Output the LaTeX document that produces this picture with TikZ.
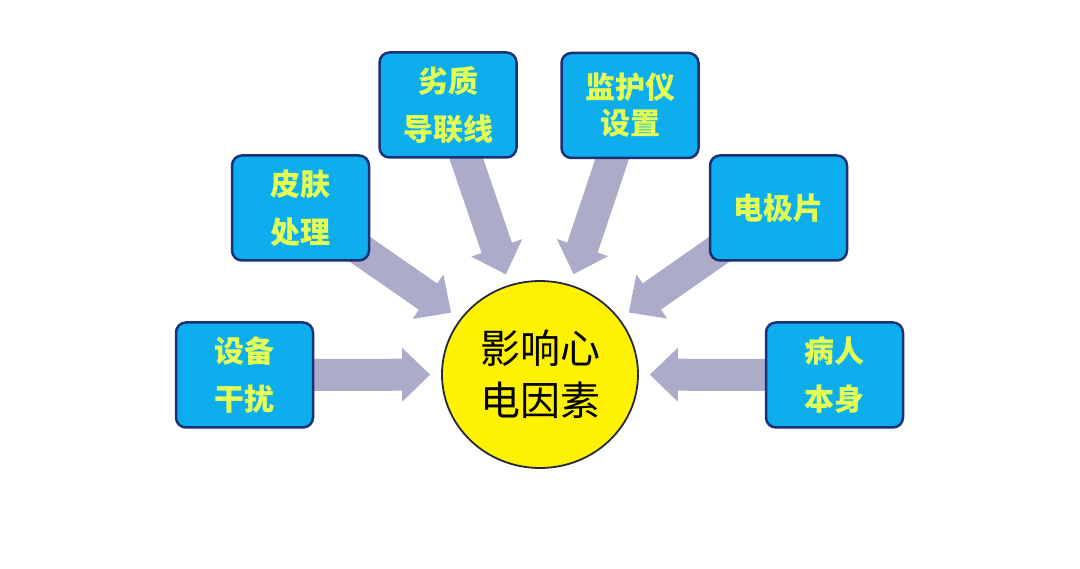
\documentclass[tikz,border=0pt]{standalone}
\usepackage{fontspec}
\newfontfamily\cjk{Noto Sans CJK SC}
\usetikzlibrary{calc,backgrounds,shapes.geometric}
\definecolor{boxfill}{RGB}{14,174,238}
\definecolor{boxline}{RGB}{28,48,118}
\definecolor{boxtext}{RGB}{228,255,84}
\definecolor{arrowfill}{RGB}{172,172,202}
\definecolor{circline}{RGB}{40,40,60}
\newcommand{\fatarrow}[2]{%
  \path (#1.center) -- (#2) coordinate[pos=1] (fa-b);
  \coordinate (fa-s) at (#1.center);
  \coordinate (fa-t) at ($(fa-b)!11pt!(fa-s)$);
  \coordinate (fa-h) at ($(fa-t)!28pt!(fa-s)$);
  \fill[arrowfill] ($(fa-s)!16pt!90:(fa-t)$) -- ($(fa-h)!16pt!90:(fa-t)$)
    -- ($(fa-h)!27pt!90:(fa-t)$) -- (fa-t) -- ($(fa-h)!27pt!-90:(fa-t)$)
    -- ($(fa-h)!16pt!-90:(fa-t)$) -- ($(fa-s)!16pt!-90:(fa-t)$) -- cycle;
}
\begin{document}
\begin{tikzpicture}[x=1pt,y=-1pt,
  factor/.style={draw=boxline, line width=2.5pt, fill=boxfill, rounded corners=10pt,
    minimum width=137pt, minimum height=105pt, inner sep=0pt, align=center,
    text=boxtext, font=\cjk\bfseries\fontsize{30}{48}\selectfont},
  hub/.style={ellipse, draw=circline, line width=1.8pt, fill=yellow,
    minimum width=196pt, minimum height=187pt, inner sep=0pt, align=center,
    font=\cjk\fontsize{40}{52}\selectfont}]
\useasboundingbox (0,0) rectangle (1080,569);

\node[hub] (circ) at (540,374.5) {影响心\\电因素};

\node[factor] (dev)  at (244.5,375) {设备\\干扰};
\node[factor] (skin) at (300.5,208) {皮肤\\处理};
\node[factor] (lead) at (448,105) {劣质\\导联线};
\node[factor, font=\cjk\bfseries\fontsize{30}{36}\selectfont] (mon) at (630,105.5) {监护仪\\设置};
\node[factor] (elec) at (778.5,208) {电极片};
\node[factor] (pat)  at (834.5,375) {病人\\本身};

\begin{scope}[on background layer]
  \fill[white] (0,0) rectangle (1080,569);
  \fatarrow{dev}{circ}
  \fatarrow{skin}{circ}
  \fatarrow{lead}{circ}
  \fatarrow{mon}{circ}
  \fatarrow{elec}{circ}
  \fatarrow{pat}{circ}
\end{scope}
\end{tikzpicture}
\end{document}
